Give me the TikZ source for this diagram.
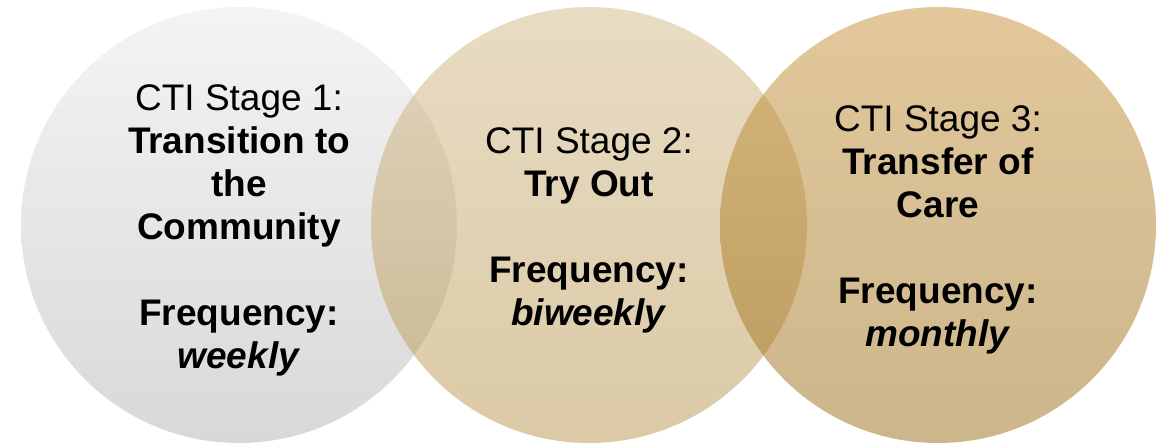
\documentclass[tikz,border=0pt]{standalone}
\usepackage{fontspec}
\setmainfont{Liberation Sans}
\definecolor{gA}{HTML}{F4F4F4}
\definecolor{gB}{HTML}{D8D8D8}
\definecolor{tA}{HTML}{D1B987}
\definecolor{tB}{HTML}{B9954D}
\definecolor{uA}{HTML}{C59137}
\definecolor{uB}{HTML}{996D17}
\begin{document}
\begin{tikzpicture}[x=1pt,y=-1pt]
\tikzset{
  lbl/.style={align=center, font=\fontsize{37}{43}\selectfont, text=black, inner sep=0pt},
  disc/.style={circle, minimum size=436pt, inner sep=0pt, draw=none}
}
\useasboundingbox (0,0) rectangle (1170,442);
\node[disc, top color=gA, bottom color=gB] (c1) at (239,225) {};
\node[disc, top color=tA, bottom color=tB, fill opacity=0.5] (c2) at (589,225) {};
\node[disc, top color=uA, bottom color=uB, fill opacity=0.5] (c3) at (938,225) {};
\node[lbl] (t1) at ([yshift=-5pt]c1.center) {CTI Stage 1:\\\textbf{Transition to}\\\textbf{the}\\\textbf{Community}\\[43pt]\textbf{Frequency:}\\\textbf{\itshape weekly}};
\node[lbl] (t2) at ([yshift=-5pt]c2.center) {CTI Stage 2:\\\textbf{Try Out}\\[43pt]\textbf{Frequency:}\\\textbf{\itshape biweekly}};
\node[lbl] (t3) at ([yshift=-5pt]c3.center) {CTI Stage 3:\\\textbf{Transfer of}\\\textbf{Care}\\[43pt]\textbf{Frequency:}\\\textbf{\itshape monthly}};
\end{tikzpicture}
\end{document}
